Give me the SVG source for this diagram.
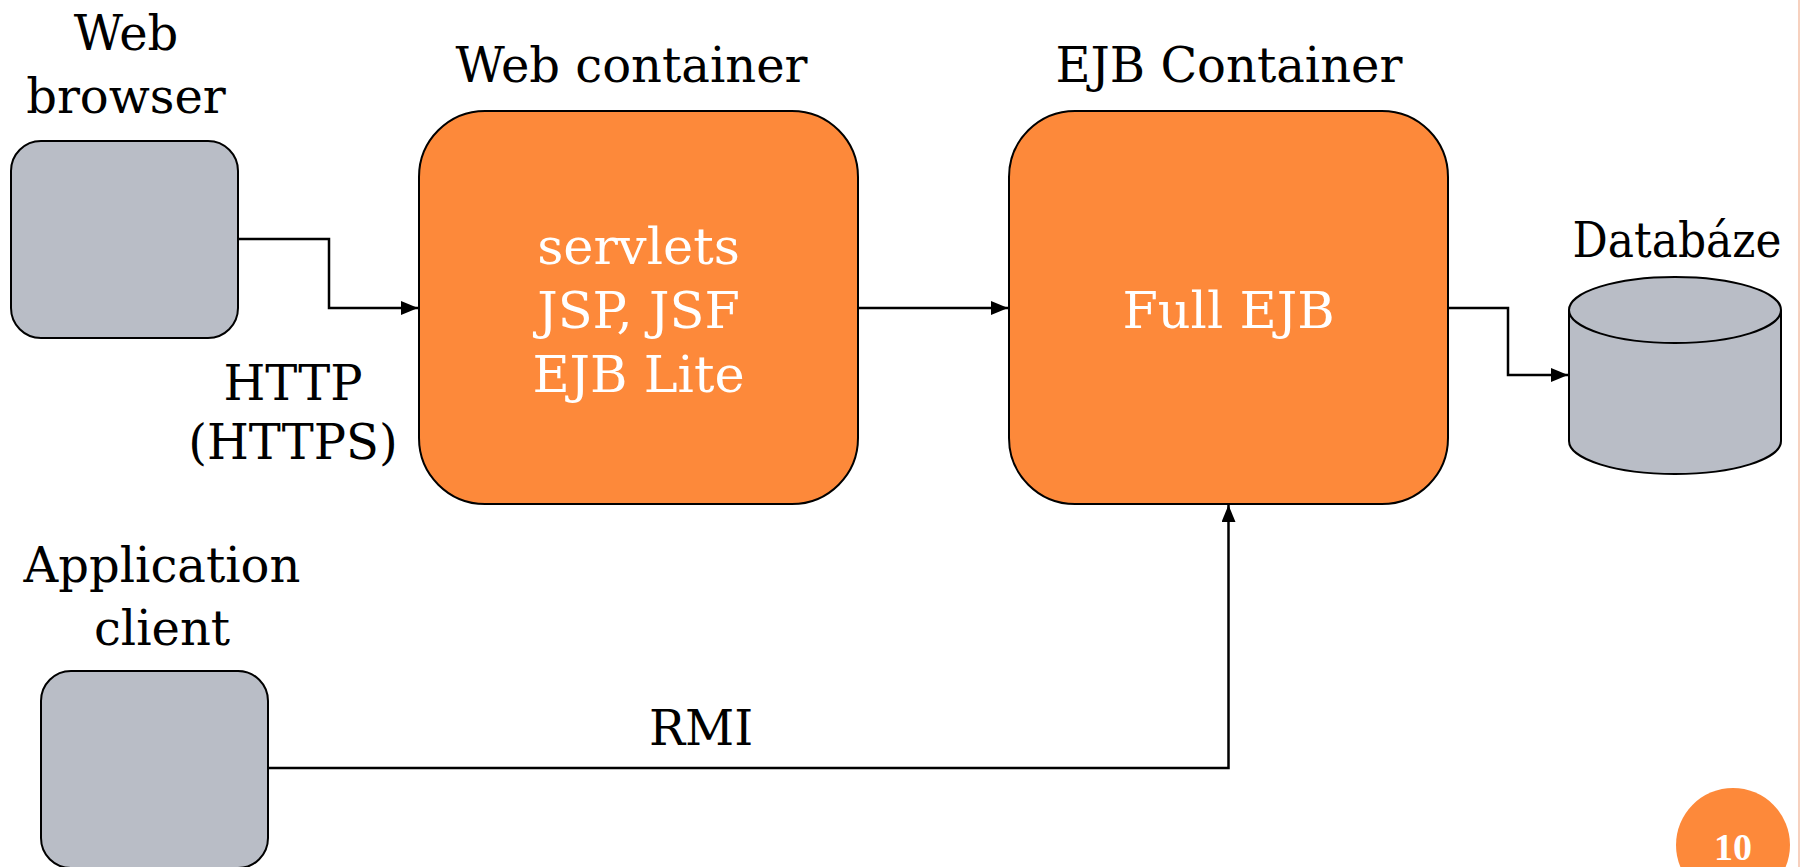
<svg xmlns="http://www.w3.org/2000/svg" width="1800" height="867" viewBox="0 0 1800 867">
<style>
  .lbl { font-family: "DejaVu Serif", "Liberation Serif", serif; font-size: 48px; fill: #000; text-anchor: middle; }
  .in { font-family: "DejaVu Serif", "Liberation Serif", serif; font-size: 51px; fill: #fff; text-anchor: middle; }
  .client { fill: #b9bdc6; stroke: #000; stroke-width: 2; }
  .cont { fill: #fd893a; stroke: #000; stroke-width: 2; }
  .conn { fill: none; stroke: #000; stroke-width: 2.5; }
</style>
<defs>
  <marker id="arr" markerUnits="userSpaceOnUse" markerWidth="18" markerHeight="14" refX="17" refY="7" orient="auto">
    <path d="M0,0 L17,7 L0,14 z" fill="#000"/>
  </marker>
</defs>
<rect x="0" y="0" width="1800" height="867" fill="#fff"/>
<line x1="1799" y1="0" x2="1799" y2="867" stroke="#f4c0a8" stroke-width="1.5"/>

<g id="connectors">
  <path class="conn" d="M238,239 H329 V308 H418" marker-end="url(#arr)"/>
  <path class="conn" d="M858,308 H1008" marker-end="url(#arr)"/>
  <path class="conn" d="M1448,308 H1508 V375 H1568" marker-end="url(#arr)"/>
  <path class="conn" d="M268,768 H1228.5 V505" marker-end="url(#arr)"/>
  <text class="lbl" x="293" y="400">HTTP</text>
  <text class="lbl" x="293" y="459">(HTTPS)</text>
  <text class="lbl" x="701" y="745">RMI</text>
</g>

<g id="web-browser">
  <rect class="client" x="11" y="141" width="227" height="197" rx="30" ry="30"/>
  <text class="lbl" x="126" y="50">Web</text>
  <text class="lbl" x="126" y="113">browser</text>
</g>

<g id="web-container">
  <rect class="cont" x="419" y="111" width="439" height="393" rx="66" ry="66"/>
  <text class="lbl" x="631.5" y="82">Web container</text>
  <text class="in" x="638.5" y="264">servlets</text>
  <text class="in" x="638.5" y="328">JSP, JSF</text>
  <text class="in" x="638.5" y="392">EJB Lite</text>
</g>

<g id="ejb-container">
  <rect class="cont" x="1009" y="111" width="439" height="393" rx="66" ry="66"/>
  <text class="lbl" x="1229" y="82">EJB Container</text>
  <text class="in" x="1228.5" y="328">Full EJB</text>
</g>

<g id="database">
  <path class="client" d="M1569,310 V441 A106,33 0 0 0 1781,441 V310"/>
  <ellipse class="client" cx="1675" cy="310" rx="106" ry="33"/>
  <text class="lbl" x="1677" y="257" textLength="209" lengthAdjust="spacingAndGlyphs">Databáze</text>
</g>

<g id="application-client">
  <rect class="client" x="41" y="671" width="227" height="197" rx="30" ry="30"/>
  <text class="lbl" x="162" y="582">Application</text>
  <text class="lbl" x="162" y="645">client</text>
</g>

<g id="page-number">
  <circle cx="1733" cy="845" r="57" fill="#fd893a"/>
  <text x="1733" y="860" font-family="Liberation Serif, serif" font-weight="bold" font-size="38" fill="#fff" text-anchor="middle">10</text>
</g>
</svg>
